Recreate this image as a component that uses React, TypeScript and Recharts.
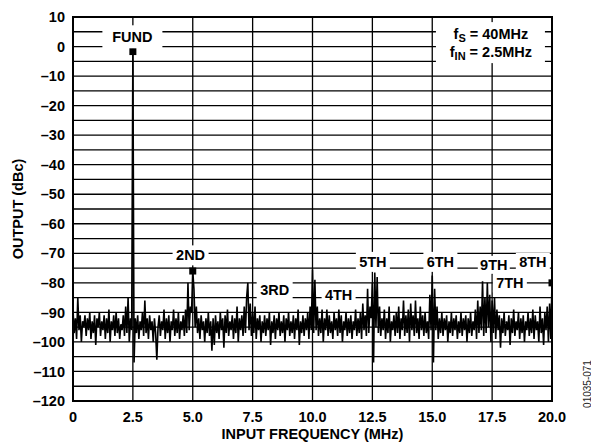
import React from 'react';
import {
  ComposedChart,
  Line,
  Scatter,
  XAxis,
  YAxis,
  CartesianGrid,
  ReferenceDot,
  ReferenceArea,
} from 'recharts';

// FFT bin spacing in MHz (data points every 0.05 MHz from 0 to 20 MHz)
const BIN_MHZ = 0.05;

// Spectrum values (dBc), in 2.5 MHz segments
const NOISE_0 = [
  -89, -97, -92, -99, -85, -96, -91, -100, -93, -95,
  -91, -98, -92, -96, -90, -99, -93, -97, -91, -101,
  -92, -95, -90, -98, -93, -96, -91, -99, -92, -97,
  -89, -100, -93, -96, -91, -98, -90, -97, -92, -99,
  -94, -96, -91, -98, -88, -97, -85, -100, -92, -96,
];
const NOISE_1 = [
  -1.7, -107, -92, -97, -91, -99, -93, -96, -90, -98,
  -86, -97, -92, -99, -91, -96, -93, -100, -92, -97,
  -106, -95, -91, -98, -93, -96, -89, -99, -92, -97,
  -91, -100, -93, -96, -89, -98, -92, -97, -90, -99,
  -93, -96, -91, -98, -89, -97, -80, -96, -88, -90,
];
const NOISE_2 = [
  -76, -82, -95, -88, -97, -92, -99, -91, -96, -93,
  -100, -92, -97, -90, -98, -93, -103, -92, -101, -91,
  -97, -93, -99, -90, -96, -92, -102, -91, -97, -89,
  -98, -93, -96, -91, -99, -92, -97, -88, -100, -92,
  -96, -91, -98, -88, -97, -85, -80, -96, -87, -98,
];
const NOISE_3 = [
  -90, -97, -88, -99, -92, -96, -91, -100, -93, -97,
  -91, -98, -92, -96, -90, -101, -93, -97, -91, -99,
  -92, -96, -90, -98, -93, -97, -91, -100, -92, -96,
  -90, -98, -93, -97, -91, -99, -92, -96, -89, -101,
  -93, -97, -91, -98, -92, -96, -90, -99, -88, -96,
];
const NOISE_4 = [
  -75.5, -97, -79, -96, -88, -98, -92, -97, -89, -100,
  -92, -96, -89, -98, -91, -97, -93, -99, -90, -96,
  -92, -98, -89, -97, -91, -100, -93, -96, -90, -98,
  -92, -97, -91, -99, -93, -96, -89, -98, -92, -97,
  -90, -99, -87, -96, -91, -98, -82, -97, -88, -92,
];
const NOISE_5 = [
  -80, -107, -76.5, -95, -78, -97, -88, -98, -92, -96,
  -89, -99, -92, -97, -88, -100, -93, -96, -91, -98,
  -90, -97, -88, -99, -92, -96, -86, -98, -91, -97,
  -89, -100, -87, -96, -91, -98, -86, -97, -92, -99,
  -88, -96, -91, -98, -90, -97, -93, -99, -84, -96,
];
const NOISE_6 = [
  -77.5, -107, -82, -96, -88, -99, -92, -97, -90, -98,
  -92, -96, -91, -100, -93, -97, -90, -98, -92, -96,
  -91, -99, -93, -97, -90, -98, -92, -96, -91, -100,
  -92, -97, -90, -98, -93, -96, -89, -99, -86, -97,
  -88, -96, -79.5, -98, -85, -97, -80, -95, -84, -100,
];
const NOISE_7 = [
  -86, -97, -85, -99, -89, -96, -91, -102, -92, -97,
  -90, -98, -93, -96, -91, -101, -92, -97, -89, -98,
  -93, -96, -90, -99, -92, -97, -91, -100, -93, -96,
  -90, -98, -92, -97, -89, -99, -91, -96, -93, -100,
  -88, -97, -92, -101, -90, -96, -88, -100, -87, -99,
  -80,
];

const DBC = [
  ...NOISE_0, ...NOISE_1, ...NOISE_2, ...NOISE_3,
  ...NOISE_4, ...NOISE_5, ...NOISE_6, ...NOISE_7,
];
const spectrum = DBC.map((v, i) => ({ f: Math.round(i * BIN_MHZ * 100) / 100, v }));

// Square markers
const MARKER_F = [2.5, 5.0, 20.0];
const MARKER_V = [-1.7, -76, -80];
const markers = MARKER_F.map((f, i) => ({ f, v: MARKER_V[i] }));

// Harmonic tags
const TAG_TEXT = ['FUND', '2ND', '3RD', '4TH', '5TH', '6TH', '9TH', '8TH', '7TH'];
const TAG_F = [2.48, 4.91, 8.42, 11.09, 12.52, 15.34, 17.57, 19.2, 18.24];
const TAG_V = [3.3, -70.7, -82.4, -84.1, -72.9, -72.9, -73.9, -72.9, -80.2];
// tag box sizes (px)
const TAG_W = [60, 36, 36, 34, 34, 34, 32, 34, 34];
const TAG_H = [23, 20, 21, 20, 20, 20, 18, 18, 18];

// Conditions box
const COND_F = 17.45;
const COND_V = 1.5;

// Axes
const X_TICKS = [0, 2.5, 5, 7.5, 10, 12.5, 15, 17.5, 20];
const X_TICK_LABELS = ['0', '2.5', '5.0', '7.5', '10.0', '12.5', '15.0', '17.5', '20.0'];
const Y_TICKS = [10, 0, -10, -20, -30, -40, -50, -60, -70, -80, -90, -100, -110, -120];
const Y_TICK_LABELS = ['10', '0', '\u201310', '\u201320', '\u201330', '\u201340', '\u201350', '\u201360', '\u201370', '\u201380', '\u201390', '\u2013100', '\u2013110', '\u2013120'];
const Y_GRID = [10, 5, 0, -5, -10, -15, -20, -25, -30, -35, -40, -45, -50, -55, -60, -65, -70, -75, -80, -85, -90, -95, -100, -105, -110, -115, -120];

const FONT = '"Liberation Sans", Arial, Helvetica, sans-serif';

const W = 591;
const H = 444;

function Tag(props: any) {
  const { cx, cy, text, w, h } = props;
  if (cx == null || cy == null) return null;
  return (
    <g>
      <rect x={cx - w / 2} y={cy - h / 2} width={w} height={h} fill="#fff" />
      <text
        x={cx}
        y={cy}
        textAnchor="middle"
        dominantBaseline="central"
        fontFamily={FONT}
        fontWeight="bold"
        fontSize={14.5}
        fill="#000"
      >
        {text}
      </text>
    </g>
  );
}

function CondBox(props: any) {
  const { cx, cy } = props;
  if (cx == null || cy == null) return null;
  const style = { fontFamily: FONT, fontWeight: 'bold' as const, fontSize: 14.5, fill: '#000' };
  return (
    <g>
      <rect x={cx - 55} y={cy - 20} width={109} height={41} fill="#fff" />
      <text x={cx} y={cy - 8} textAnchor="middle" dominantBaseline="central" {...style}>
        <tspan>f</tspan>
        <tspan dy={4} fontSize={11}>S</tspan>
        <tspan dy={-4}> = 40MHz</tspan>
      </text>
      <text x={cx} y={cy + 10} textAnchor="middle" dominantBaseline="central" {...style}>
        <tspan>f</tspan>
        <tspan dy={4} fontSize={11}>IN</tspan>
        <tspan dy={-4}> = 2.5MHz</tspan>
      </text>
    </g>
  );
}

function SquareMarker(props: any) {
  const { cx, cy } = props;
  if (cx == null || cy == null) return null;
  return <rect x={cx - 3.5} y={cy - 3.5} width={7} height={7} fill="#000" />;
}

export default function App() {
  const tickStyle = { fontFamily: FONT, fontWeight: 'bold', fontSize: 14.5, fill: '#000' };
  return (
    <div style={{ position: 'absolute', left: 0, top: 0, width: W, height: H, background: '#fff' }}>
      <ComposedChart
        width={W}
        height={H}
        data={spectrum}
        margin={{ top: 17, right: 39, bottom: 0, left: 0 }}
      >
        <CartesianGrid
          stroke="#000"
          strokeWidth={1.3}
          horizontalValues={Y_GRID}
          verticalValues={X_TICKS}
        />
        <XAxis
          dataKey="f"
          type="number"
          domain={[0, 20]}
          ticks={X_TICKS}
          tickFormatter={(v: number, i: number) => X_TICK_LABELS[i]}
          allowDataOverflow
          height={43}
          axisLine={false}
          tickLine={false}
          tickMargin={5}
          tick={tickStyle}
          interval={0}
          label={{
            value: 'INPUT FREQUENCY (MHz)',
            position: 'insideBottom',
            offset: 5,
            style: { fontFamily: FONT, fontWeight: 'bold', fontSize: 14.5, fill: '#000' },
          }}
        />
        <YAxis
          type="number"
          domain={[-120, 10]}
          ticks={Y_TICKS}
          tickFormatter={(v: number, i: number) => Y_TICK_LABELS[i]}
          allowDataOverflow
          width={73}
          axisLine={false}
          tickLine={false}
          tick={tickStyle}
          interval={0}
          label={{
            value: 'OUTPUT (dBc)',
            angle: -90,
            position: 'insideLeft',
            offset: 18,
            style: { textAnchor: 'middle', fontFamily: FONT, fontWeight: 'bold', fontSize: 14.5, fill: '#000' },
          }}
        />
        <Line
          type="linear"
          dataKey="v"
          stroke="#000"
          strokeWidth={1.6}
          dot={false}
          activeDot={false}
          isAnimationActive={false}
        />
        <Scatter
          data={markers}
          dataKey="v"
          shape={<SquareMarker />}
          isAnimationActive={false}
        />
        <ReferenceArea
          x1={0}
          x2={20}
          y1={-120}
          y2={10}
          fill="none"
          stroke="#000"
          strokeWidth={2}
          ifOverflow="visible"
        />
        {TAG_TEXT.map((t, i) => (
          <ReferenceDot
            key={t}
            x={TAG_F[i]}
            y={TAG_V[i]}
            r={0}
            ifOverflow="visible"
            shape={(p: any) => <Tag {...p} text={t} w={TAG_W[i]} h={TAG_H[i]} />}
          />
        ))}
        <ReferenceDot
          x={COND_F}
          y={COND_V}
          r={0}
          ifOverflow="visible"
          shape={(p: any) => <CondBox {...p} />}
        />
      </ComposedChart>
      <svg
        width={W}
        height={H}
        style={{ position: 'absolute', left: 0, top: 0, pointerEvents: 'none' }}
      >
        <text
          x={587}
          y={384}
          transform="rotate(-90 587 384)"
          textAnchor="middle"
          dominantBaseline="central"
          fontFamily={FONT}
          fontSize={10}
          fill="#222"
        >
          01035-071
        </text>
      </svg>
    </div>
  );
}
